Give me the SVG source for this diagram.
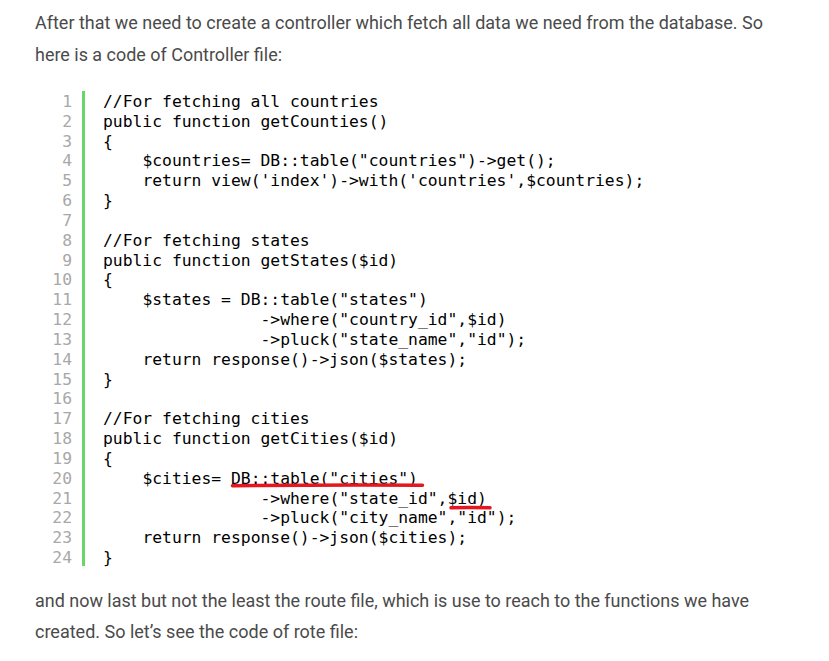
<svg xmlns="http://www.w3.org/2000/svg" width="829" height="661" viewBox="0 0 829 661">
<style>
.p{font-family:Roboto,"Liberation Sans",sans-serif;font-size:17.6px;fill:#4a4a4a}
.c{font-family:"DejaVu Sans Mono","Liberation Mono",monospace;font-size:16.35px;fill:#000}
.n{font-family:"DejaVu Sans Mono","Liberation Mono",monospace;font-size:16.35px;fill:#a8a8a8;text-anchor:end}
.u{stroke:#e5161f;stroke-width:3.5;stroke-linecap:round;fill:none}
</style>
<rect width="829" height="661" fill="#fff"/>
<g id="intro">
<text class="p" x="35" y="29" textLength="728" lengthAdjust="spacingAndGlyphs">After that we need to create a controller which fetch all data we need from the database. So</text>
<text class="p" x="35" y="61" textLength="247" lengthAdjust="spacingAndGlyphs">here is a code of Controller file:</text>
</g>
<g id="code">
<rect x="82" y="91" width="3" height="475" fill="#6ad66a"/>
<g id="linenumbers">
<text class="n" x="72" y="107">1</text>
<text class="n" x="72" y="126.83">2</text>
<text class="n" x="72" y="146.66">3</text>
<text class="n" x="72" y="166.49">4</text>
<text class="n" x="72" y="186.32">5</text>
<text class="n" x="72" y="206.15">6</text>
<text class="n" x="72" y="225.98">7</text>
<text class="n" x="72" y="245.81">8</text>
<text class="n" x="72" y="265.64">9</text>
<text class="n" x="72" y="285.47">10</text>
<text class="n" x="72" y="305.3">11</text>
<text class="n" x="72" y="325.13">12</text>
<text class="n" x="72" y="344.96">13</text>
<text class="n" x="72" y="364.79">14</text>
<text class="n" x="72" y="384.62">15</text>
<text class="n" x="72" y="404.45">16</text>
<text class="n" x="72" y="424.28">17</text>
<text class="n" x="72" y="444.11">18</text>
<text class="n" x="72" y="463.94">19</text>
<text class="n" x="72" y="483.77">20</text>
<text class="n" x="72" y="503.6">21</text>
<text class="n" x="72" y="523.43">22</text>
<text class="n" x="72" y="543.26">23</text>
<text class="n" x="72" y="563.09">24</text>
</g>
<g id="lines">
<text class="c" x="103" y="107">//For fetching all countries</text>
<text class="c" x="103" y="126.83">public function getCounties()</text>
<text class="c" x="103" y="146.66">{</text>
<text class="c" x="142.4" y="166.49">$countries= DB::table("countries")-&gt;get();</text>
<text class="c" x="142.4" y="186.32">return view('index')-&gt;with('countries',$countries);</text>
<text class="c" x="103" y="206.15">}</text>
<text class="c" x="103" y="245.81">//For fetching states</text>
<text class="c" x="103" y="265.64">public function getStates($id)</text>
<text class="c" x="103" y="285.47">{</text>
<text class="c" x="142.4" y="305.3">$states = DB::table("states")</text>
<text class="c" x="260.5" y="325.13">-&gt;where("country_id",$id)</text>
<text class="c" x="260.5" y="344.96">-&gt;pluck("state_name","id");</text>
<text class="c" x="142.4" y="364.79">return response()-&gt;json($states);</text>
<text class="c" x="103" y="384.62">}</text>
<text class="c" x="103" y="424.28">//For fetching cities</text>
<text class="c" x="103" y="444.11">public function getCities($id)</text>
<text class="c" x="103" y="463.94">{</text>
<text class="c" x="142.4" y="483.77">$cities= DB::table("cities")</text>
<text class="c" x="260.5" y="503.6">-&gt;where("state_id",$id)</text>
<text class="c" x="260.5" y="523.43">-&gt;pluck("city_name","id");</text>
<text class="c" x="142.4" y="543.26">return response()-&gt;json($cities);</text>
<text class="c" x="103" y="563.09">}</text>
</g>
</g>
<g id="marks">
<path class="u" d="M232.5 485.8 Q330 484.6 422.5 485.2"/>
<path class="u" d="M451 507.8 Q470 507.2 490 507.8"/>
</g>
<g id="outro">
<text class="p" x="35" y="607" textLength="714" lengthAdjust="spacingAndGlyphs">and now last but not the least the route file, which is use to reach to the functions we have</text>
<text class="p" x="35" y="638" textLength="323" lengthAdjust="spacingAndGlyphs">created. So let’s see the code of rote file:</text>
</g>
</svg>
